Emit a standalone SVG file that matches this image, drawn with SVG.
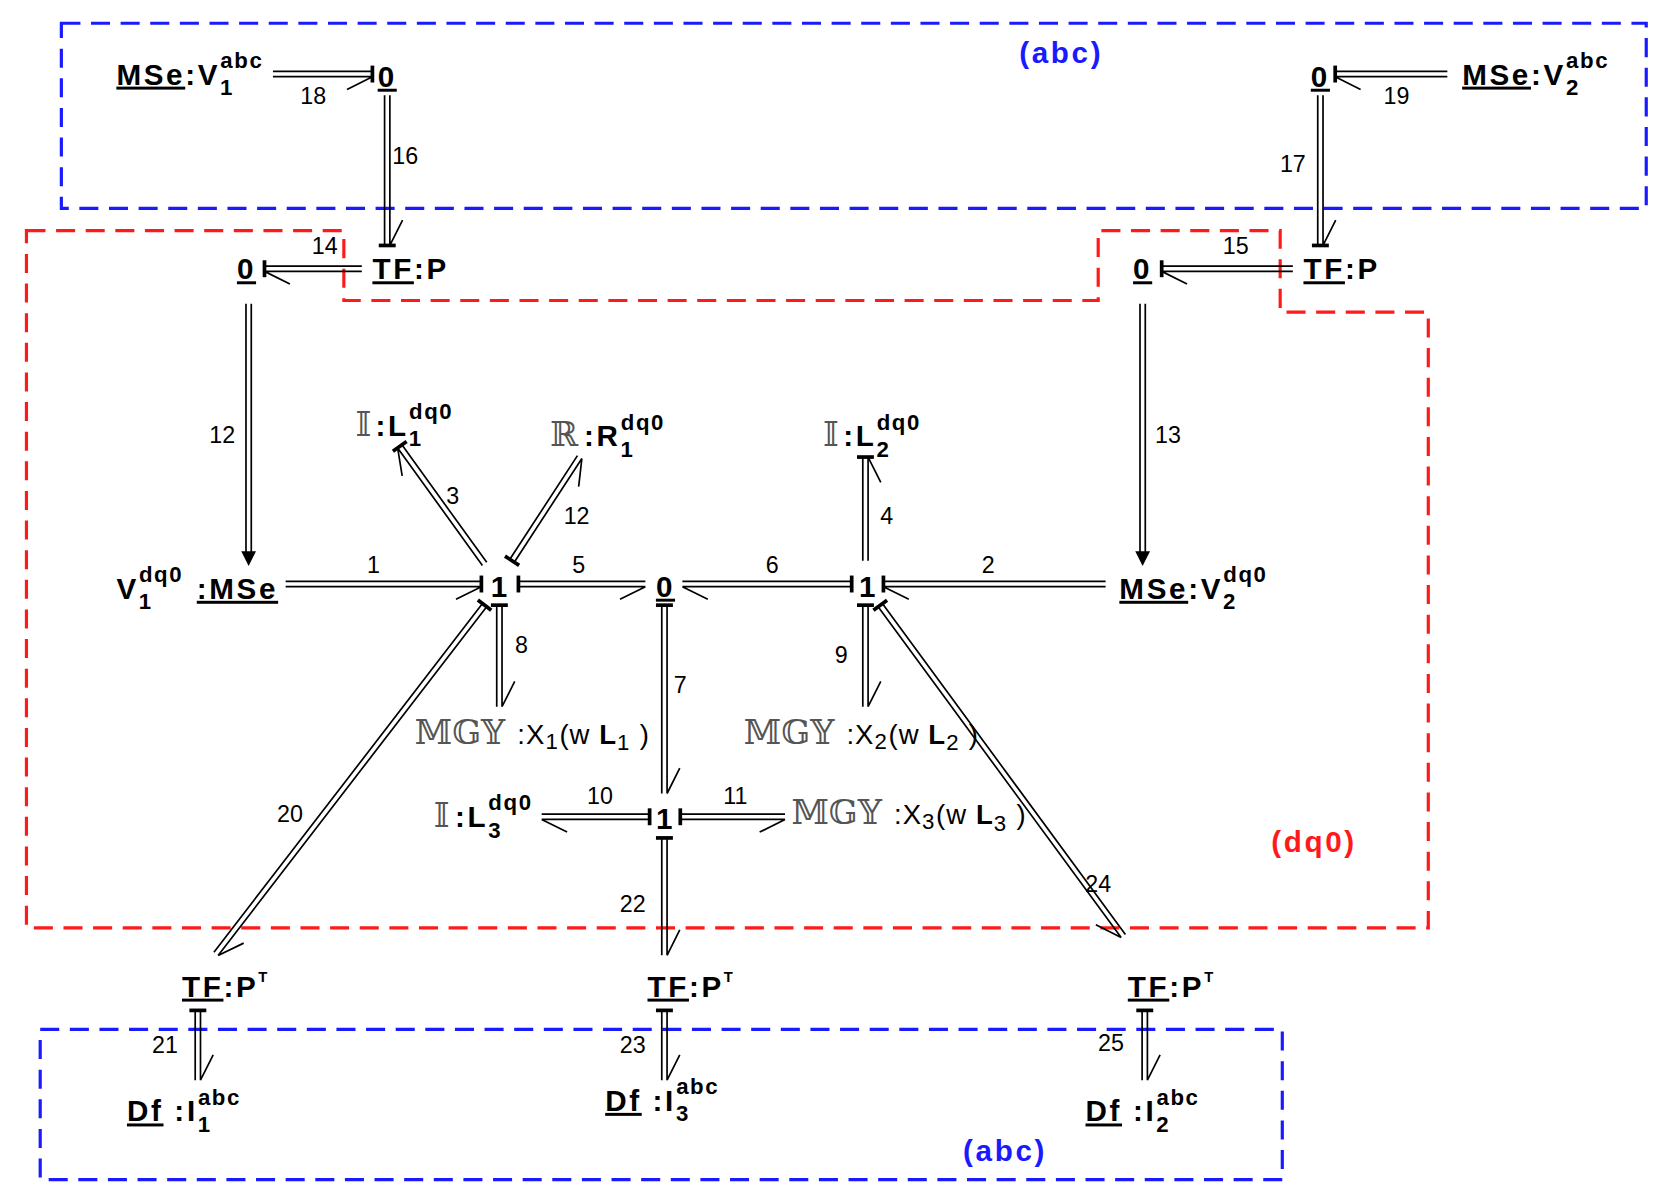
<svg xmlns="http://www.w3.org/2000/svg" width="1659" height="1202" viewBox="0 0 1659 1202">
<style>
.b{fill:none;stroke:#000;stroke-width:1.6}
.k{fill:none;stroke:#000;stroke-width:3.5}
.t{font-family:"Liberation Sans",Arial,sans-serif;font-weight:bold;font-size:28px;letter-spacing:2.5px;fill:#000}
.s{font-size:21px;letter-spacing:1.5px}
.n{font-family:"Liberation Sans",Arial,sans-serif;font-size:22px;fill:#000}
.d{font-family:"DejaVu Serif","DejaVu Sans",serif;font-weight:normal;font-size:32px;fill:#555}
.u{text-decoration:underline}
.box{fill:none;stroke-width:3;stroke-dasharray:18,10}
</style>
<rect width="1659" height="1202" fill="#fff"/>
<g transform="scale(1.058)">
<g id="regions">
<rect class="box" stroke="#1a1aff" x="58" y="22" width="1498" height="175"/>
<polygon class="box" stroke="#ff1a1a" points="25,218 325,218 325,284 1038,284 1038,218 1210,218 1210,295 1350,295 1350,877 25,877"/>
<rect class="box" stroke="#1a1aff" x="38" y="973" width="1174" height="142"/>
<text class="t" x="1003" y="60" text-anchor="middle" style="fill:#1a1aff">(abc)</text>
<text class="t" x="1242" y="805" text-anchor="middle" style="fill:#ff1a1a">(dq0)</text>
<text class="t" x="950" y="1097" text-anchor="middle" style="fill:#1a1aff">(abc)</text>
</g>
<g id="connectors">
<g transform="translate(258,70)"><path class="b" d="M0,-2.5H94M0,2.5H94M94,2.5l-24,12"/><path class="k" d="M94,-8V8"/></g>
<g transform="translate(1368,70) rotate(180)"><path class="b" d="M0,-2.5H106M0,2.5H106M106,-2.5l-24,-12"/><path class="k" d="M106,-8V8"/></g>
<g transform="translate(366,90) rotate(90)"><path class="b" d="M0,-2.5H142M0,2.5H142M142,-2.5l-24,-12"/><path class="k" d="M142,-8V8"/></g>
<g transform="translate(1248,90) rotate(90)"><path class="b" d="M0,-2.5H142M0,2.5H142M142,-2.5l-24,-12"/><path class="k" d="M142,-8V8"/></g>
<g transform="translate(342,254) rotate(180)"><path class="b" d="M0,-2.5H92M0,2.5H92M92,-2.5l-24,-12"/><path class="k" d="M92,-8V8"/></g>
<g transform="translate(1222,254) rotate(180)"><path class="b" d="M0,-2.5H124M0,2.5H124M124,-2.5l-24,-12"/><path class="k" d="M124,-8V8"/></g>
<g transform="translate(235,287) rotate(90)"><path class="b" d="M0,-2.5H236M0,2.5H236"/><polygon points="248,0 234,-7 234,7" fill="#000"/></g>
<g transform="translate(1080,287) rotate(90)"><path class="b" d="M0,-2.5H236M0,2.5H236"/><polygon points="248,0 234,-7 234,7" fill="#000"/></g>
<g transform="translate(270,552)"><path class="b" d="M0,-2.5H185M0,2.5H185M185,2.5l-24,12"/><path class="k" d="M185,-8V8"/></g>
<g transform="translate(1045,552) rotate(180)"><path class="b" d="M0,-2.5H210M0,2.5H210M210,-2.5l-24,-12"/><path class="k" d="M210,-8V8"/></g>
<g transform="translate(490,552)"><path class="b" d="M0,-2.5H120M0,2.5H120M120,2.5l-24,12"/><path class="k" d="M0,-8V8"/></g>
<g transform="translate(805,552) rotate(180)"><path class="b" d="M0,-2.5H160M0,2.5H160M160,-2.5l-24,-12"/><path class="k" d="M0,-8V8"/></g>
<g transform="translate(458,533) rotate(-125.8)"><path class="b" d="M0,-2.5H137M0,2.5H137M137,-2.5l-24,-12"/><path class="k" d="M137,-8V8"/></g>
<g transform="translate(484,530) rotate(-56.9)"><path class="b" d="M0,-2.5H117M0,2.5H117M117,2.5l-24,12"/><path class="k" d="M0,-8V8"/></g>
<g transform="translate(818,530) rotate(-90)"><path class="b" d="M0,-2.5H98M0,2.5H98M98,2.5l-24,12"/><path class="k" d="M98,-8V8"/></g>
<g transform="translate(472,572) rotate(90)"><path class="b" d="M0,-2.5H96M0,2.5H96M96,-2.5l-24,-12"/><path class="k" d="M0,-8V8"/></g>
<g transform="translate(628,572) rotate(90)"><path class="b" d="M0,-2.5H178M0,2.5H178M178,-2.5l-24,-12"/><path class="k" d="M0,-8V8"/></g>
<g transform="translate(818,572) rotate(90)"><path class="b" d="M0,-2.5H96M0,2.5H96M96,-2.5l-24,-12"/><path class="k" d="M0,-8V8"/></g>
<g transform="translate(458,572) rotate(127.6)"><path class="b" d="M0,-2.5H416M0,2.5H416M416,-2.5l-24,-12"/><path class="k" d="M0,-8V8"/></g>
<g transform="translate(832,572) rotate(53.7)"><path class="b" d="M0,-2.5H388M0,2.5H388M388,2.5l-24,12"/><path class="k" d="M0,-8V8"/></g>
<g transform="translate(614,772) rotate(180)"><path class="b" d="M0,-2.5H102M0,2.5H102M102,-2.5l-24,-12"/><path class="k" d="M0,-8V8"/></g>
<g transform="translate(643,772)"><path class="b" d="M0,-2.5H99M0,2.5H99M99,2.5l-24,12"/><path class="k" d="M0,-8V8"/></g>
<g transform="translate(628,792) rotate(90)"><path class="b" d="M0,-2.5H111M0,2.5H111M111,-2.5l-24,-12"/><path class="k" d="M0,-8V8"/></g>
<g transform="translate(187,955) rotate(90)"><path class="b" d="M0,-2.5H66M0,2.5H66M66,-2.5l-24,-12"/><path class="k" d="M0,-8V8"/></g>
<g transform="translate(628,955) rotate(90)"><path class="b" d="M0,-2.5H66M0,2.5H66M66,-2.5l-24,-12"/><path class="k" d="M0,-8V8"/></g>
<g transform="translate(1082,955) rotate(90)"><path class="b" d="M0,-2.5H66M0,2.5H66M66,-2.5l-24,-12"/><path class="k" d="M0,-8V8"/></g>
</g>
<g id="bond-labels" class="n" text-anchor="middle">
<text x="296" y="98">18</text>
<text x="1320" y="98">19</text>
<text x="383" y="155">16</text>
<text x="1222" y="163">17</text>
<text x="307" y="240">14</text>
<text x="1168" y="240">15</text>
<text x="210" y="419">12</text>
<text x="1104" y="419">13</text>
<text x="428" y="476">3</text>
<text x="545" y="495">12</text>
<text x="838" y="495">4</text>
<text x="353" y="542">1</text>
<text x="547" y="542">5</text>
<text x="730" y="542">6</text>
<text x="934" y="542">2</text>
<text x="493" y="617">8</text>
<text x="643" y="655">7</text>
<text x="795" y="627">9</text>
<text x="567" y="760">10</text>
<text x="695" y="760">11</text>
<text x="274" y="777">20</text>
<text x="1038" y="843">24</text>
<text x="598" y="862">22</text>
<text x="156" y="995">21</text>
<text x="598" y="995">23</text>
<text x="1050" y="993">25</text>
</g>
<g id="n-mse-v1abc"><text class="t" x="110" y="80"><tspan class="u">MSe</tspan>:V<tspan class="s" dy="10">1</tspan><tspan class="s" dx="-13" dy="-26">abc</tspan></text></g>
<g id="n-0a"><text class="t u" x="366" y="82" text-anchor="middle">0</text></g>
<g id="n-0b"><text class="t u" x="1248" y="82" text-anchor="middle">0</text></g>
<g id="n-mse-v2abc"><text class="t" x="1382" y="80"><tspan class="u">MSe</tspan>:V<tspan class="s" dy="10">2</tspan><tspan class="s" dx="-13" dy="-26">abc</tspan></text></g>
<g id="n-tf1"><text class="t" x="352" y="264"><tspan class="u">TF</tspan>:P</text></g>
<g id="n-tf2"><text class="t" x="1232" y="264"><tspan class="u">TF</tspan>:P</text></g>
<g id="n-0c"><text class="t u" x="233" y="264" text-anchor="middle">0</text></g>
<g id="n-0d"><text class="t u" x="1080" y="264" text-anchor="middle">0</text></g>
<g id="n-i-l1"><text class="d" x="336" y="412">𝕀</text><text class="t" x="355" y="412">:L<tspan class="s" dy="10">1</tspan><tspan class="s" dx="-13" dy="-26">dq0</tspan></text></g>
<g id="n-r-r1"><text class="d" x="520" y="422">ℝ</text><text class="t" x="552" y="422">:R<tspan class="s" dy="10">1</tspan><tspan class="s" dx="-13" dy="-26">dq0</tspan></text></g>
<g id="n-i-l2"><text class="d" x="778" y="422">𝕀</text><text class="t" x="797" y="422">:L<tspan class="s" dy="10">2</tspan><tspan class="s" dx="-13" dy="-26">dq0</tspan></text></g>
<g id="n-mse-v1dq0"><text class="t" x="110" y="566">V<tspan class="s" dy="10">1</tspan><tspan class="s" dx="-13" dy="-26">dq0</tspan><tspan x="186" y="566" class="u">:MSe</tspan></text></g>
<g id="n-j1a"><text class="t" x="473" y="564" text-anchor="middle">1</text></g>
<g id="n-j0"><text class="t u" x="629" y="564" text-anchor="middle">0</text></g>
<g id="n-j1b"><text class="t" x="821" y="564" text-anchor="middle">1</text></g>
<g id="n-mse-v2dq0"><text class="t" x="1058" y="566"><tspan class="u">MSe</tspan>:V<tspan class="s" dy="10">2</tspan><tspan class="s" dx="-13" dy="-26">dq0</tspan></text></g>
<g id="n-mgy1"><text class="d" x="392" y="703">𝕄𝔾𝕐</text><text class="t" x="489" y="703" style="font-weight:normal;font-size:26px;letter-spacing:1px">:X<tspan class="s" dy="5">1</tspan><tspan dy="-5">(w </tspan><tspan style="font-weight:bold">L</tspan><tspan class="s" dy="6">1</tspan><tspan dy="-6"> )</tspan></text></g>
<g id="n-mgy2"><text class="d" x="703" y="703">𝕄𝔾𝕐</text><text class="t" x="800" y="703" style="font-weight:normal;font-size:26px;letter-spacing:1px">:X<tspan class="s" dy="5">2</tspan><tspan dy="-5">(w </tspan><tspan style="font-weight:bold">L</tspan><tspan class="s" dy="6">2</tspan><tspan dy="-6"> )</tspan></text></g>
<g id="n-i-l3"><text class="d" x="410" y="782">𝕀</text><text class="t" x="430" y="782">:L<tspan class="s" dy="10">3</tspan><tspan class="s" dx="-13" dy="-26">dq0</tspan></text></g>
<g id="n-j1c"><text class="t" x="629" y="784" text-anchor="middle">1</text></g>
<g id="n-mgy3"><text class="d" x="748" y="779">𝕄𝔾𝕐</text><text class="t" x="845" y="779" style="font-weight:normal;font-size:26px;letter-spacing:1px">:X<tspan class="s" dy="5">3</tspan><tspan dy="-5">(w </tspan><tspan style="font-weight:bold">L</tspan><tspan class="s" dy="6">3</tspan><tspan dy="-6"> )</tspan></text></g>
<g id="n-tfpt1"><text class="t" x="172" y="942"><tspan class="u">TF</tspan>:P<tspan dy="-14" style="font-size:14px">T</tspan></text></g>
<g id="n-tfpt2"><text class="t" x="612" y="942"><tspan class="u">TF</tspan>:P<tspan dy="-14" style="font-size:14px">T</tspan></text></g>
<g id="n-tfpt3"><text class="t" x="1066" y="942"><tspan class="u">TF</tspan>:P<tspan dy="-14" style="font-size:14px">T</tspan></text></g>
<g id="n-df1"><text class="t" x="120" y="1060"><tspan class="u">Df</tspan> :I<tspan class="s" dy="10">1</tspan><tspan class="s" dx="-13" dy="-26">abc</tspan></text></g>
<g id="n-df3"><text class="t" x="572" y="1050"><tspan class="u">Df</tspan> :I<tspan class="s" dy="10">3</tspan><tspan class="s" dx="-13" dy="-26">abc</tspan></text></g>
<g id="n-df2"><text class="t" x="1026" y="1060"><tspan class="u">Df</tspan> :I<tspan class="s" dy="10">2</tspan><tspan class="s" dx="-13" dy="-26">abc</tspan></text></g>
</g>
</svg>
